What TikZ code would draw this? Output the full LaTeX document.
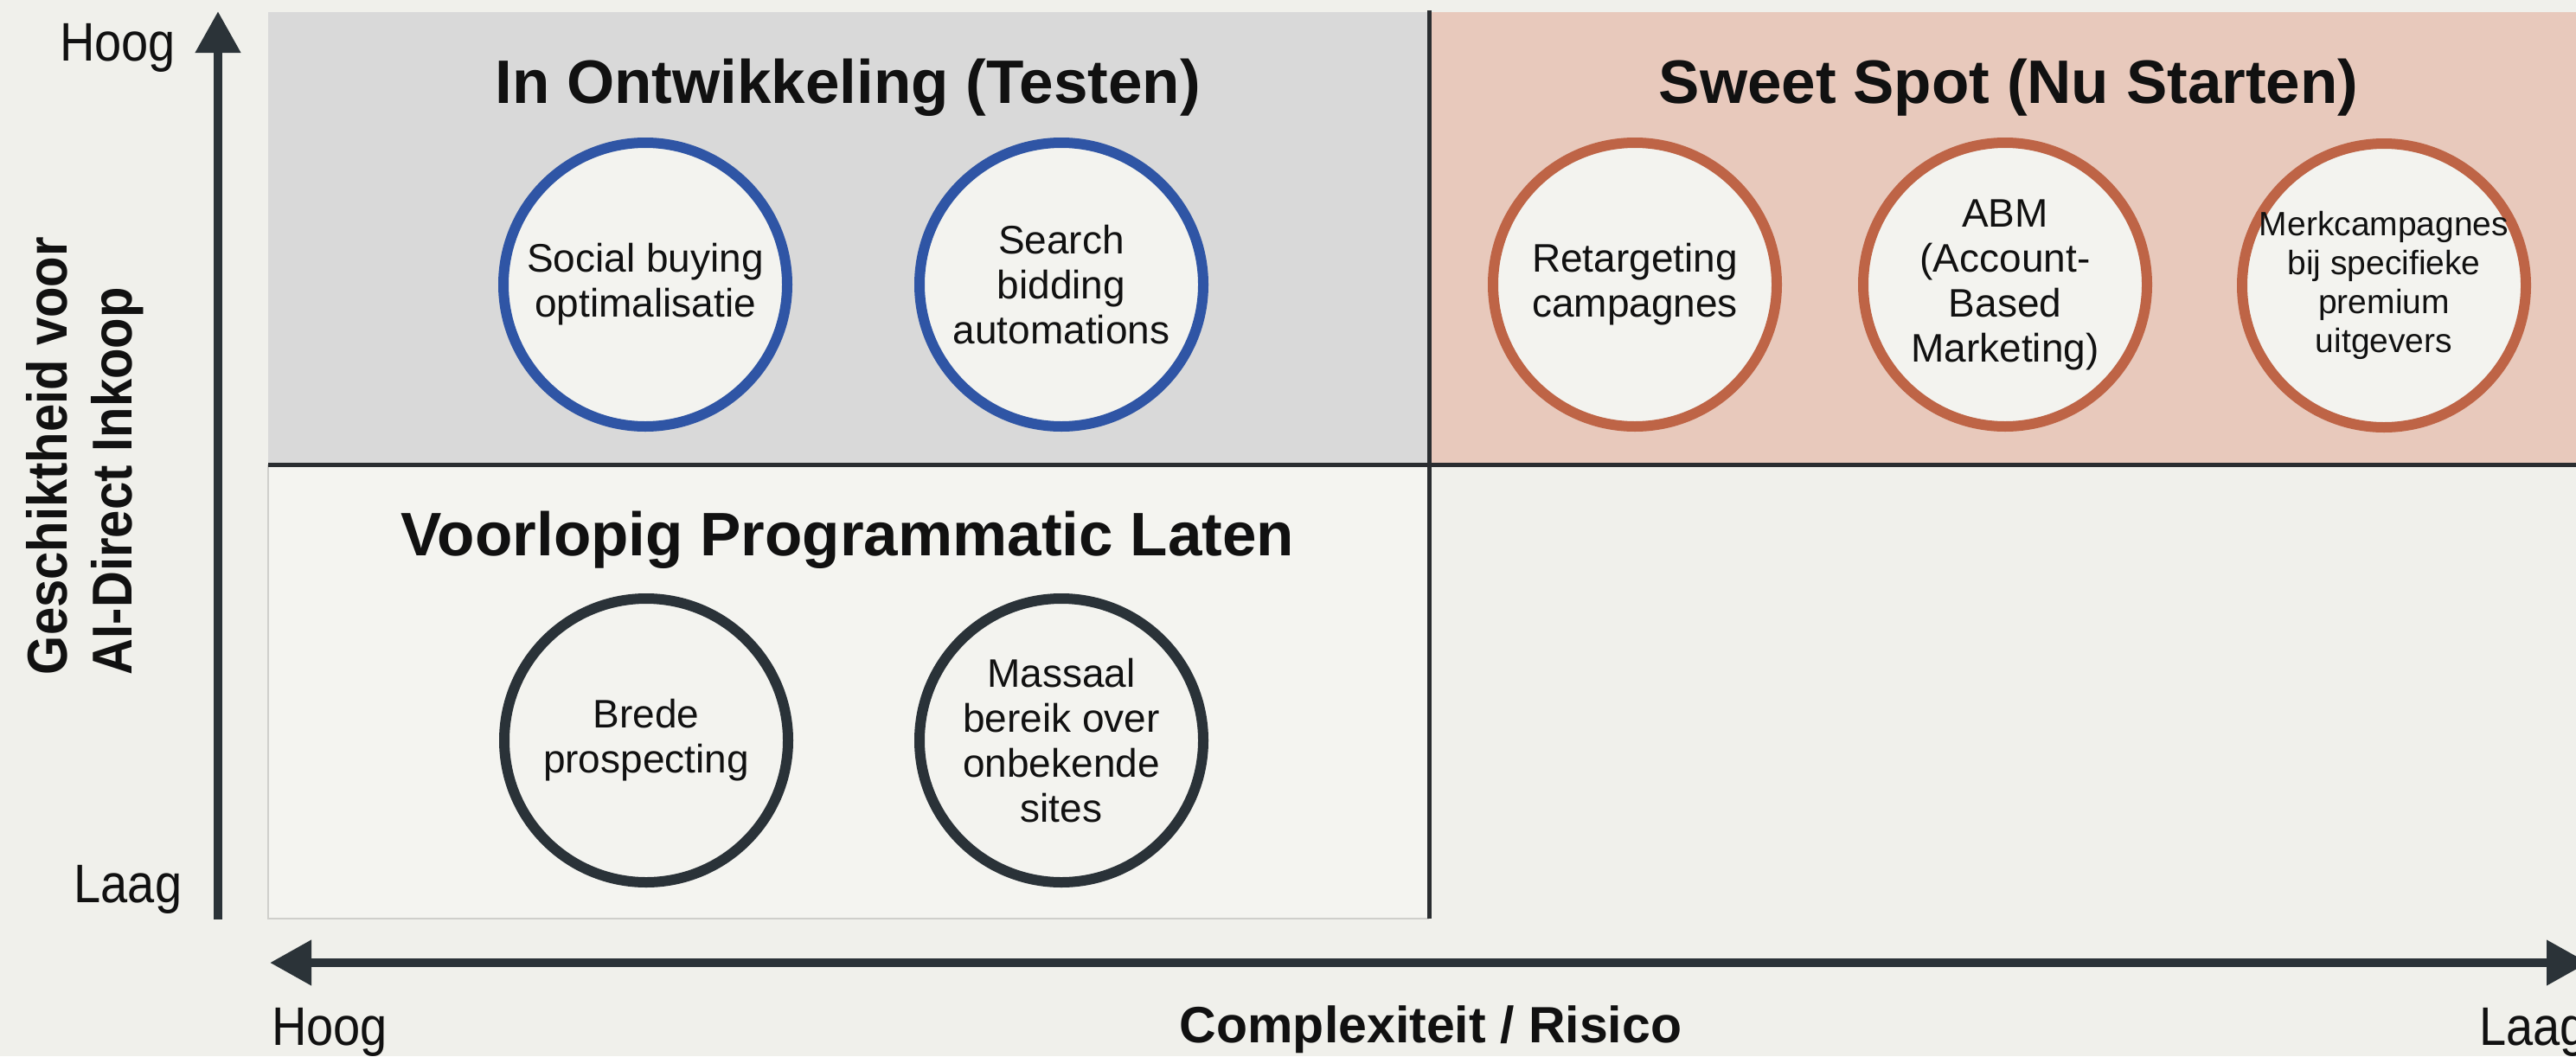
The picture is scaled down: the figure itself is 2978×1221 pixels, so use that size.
\documentclass[tikz,border=0pt]{standalone}
\usepackage{fontspec}
\setmainfont{Liberation Sans}
\usepackage{graphicx}
\usetikzlibrary{arrows.meta}
\definecolor{bgcol}{HTML}{F0F0EB}
\definecolor{graybg}{HTML}{D9D9D9}
\definecolor{orangebg}{HTML}{E8C9BC}
\definecolor{lowbg}{HTML}{F4F4F0}
\definecolor{edgecol}{HTML}{CFCFCB}
\definecolor{cfill}{HTML}{F3F3EF}
\definecolor{bluering}{HTML}{2F55A5}
\definecolor{orangering}{HTML}{BE6446}
\definecolor{darkring}{HTML}{2A3238}
\definecolor{axiscol}{HTML}{2B3338}
\definecolor{divcol}{HTML}{2A2D30}
\definecolor{txt}{HTML}{111111}
\tikzset{
  circ/.style={circle, minimum size=328pt, line width=12pt, fill=cfill, inner sep=0pt},
  bluec/.style={circ, draw=bluering},
  orangec/.style={circ, draw=orangering},
  darkc/.style={circ, draw=darkring},
  ctext/.style={align=center, font=\fontsize{46}{52}\selectfont, text=txt, inner sep=0pt},
  ctextsmall/.style={align=center, font=\fontsize{39}{45}\selectfont, text=txt, inner sep=0pt},
  qtitle/.style={font=\bfseries\fontsize{71}{80}\selectfont, text=txt, inner sep=0pt, anchor=base},
  ticklab/.style={font=\fontsize{56}{60}\selectfont, text=txt, inner sep=0pt, anchor=base},
  axislab/.style={font=\bfseries\fontsize{59}{64}\selectfont, text=txt, inner sep=0pt, anchor=base},
  axisline/.style={line width=10.5pt, draw=axiscol},
  divider/.style={line width=5pt, draw=divcol},
  tipa/.tip={Triangle[length=48pt,width=50pt]},
}
\begin{document}
\begin{tikzpicture}[x=1pt,y=-1pt]
\useasboundingbox (0,0) rectangle (2978,1221);
\fill[bgcol] (0,0) rectangle (2978,1221);

% quadrants
\fill[graybg] (310,14) rectangle (1652,537);
\fill[orangebg] (1652,14) rectangle (2978,537);
\fill[lowbg] (310,537) rectangle (1652,1062);
\draw[edgecol, line width=2.5pt] (310,537) -- (310,1062) -- (1652,1062);

% dividers
\coordinate (vtop) at (1652,12);
\coordinate (vbot) at (1652,1062);
\coordinate (hleft) at (310,537);
\coordinate (hright) at (2978,537);
\draw[divider] (vtop) -- (vbot);
\draw[divider] (hleft) -- (hright);

% axes
\coordinate (ybot) at (252,1063);
\coordinate (ytop) at (252,13);
\draw[axisline, -{tipa[fill=axiscol]}] (ybot) -- (ytop);
\coordinate (xl) at (312,1113);
\coordinate (xr) at (2992,1113);
\draw[axisline, {tipa[fill=axiscol]}-{tipa[fill=axiscol]}] (xl) -- (xr);

% axis labels
\node[ticklab] (yhigh) at (136,70) {\scalebox{1}[1.12]{Hoog}};
\node[ticklab] (ylow) at (148,1043) {\scalebox{1}[1.12]{Laag}};
\node[ticklab, anchor=base west] (xhigh) at (314,1208) {\scalebox{1}[1.12]{Hoog}};
\node[ticklab, anchor=base west] (xlow) at (2866,1208) {\scalebox{1}[1.12]{Laag}};
\node[axislab] (xlabel) at (1654,1205) {Complexiteit / Risico};
\node[rotate=90, inner sep=0pt, text=txt, font=\bfseries\fontsize{58}{67}\selectfont] (ylabel) at (100,527)
  {\scalebox{1}[1.12]{\begin{tabular}{@{}l@{}}Geschiktheid voor\\AI-Direct Inkoop\end{tabular}}};

% titles
\node[qtitle] (t1) at (980,119) {In Ontwikkeling (Testen)};
\node[qtitle] (t2) at (2322,119) {Sweet Spot (Nu Starten)};
\node[qtitle] (t3) at (980,642) {Voorlopig Programmatic Laten};

% circles quadrant 1
\node[bluec] (c1) at (746,329) {};
\node[ctext] (c1t) at (c1.center) {Social buying\\optimalisatie};
\node[bluec] (c2) at (1227,329) {};
\node[ctext] (c2t) at (c2.center) {Search\\bidding\\automations};

% circles quadrant 2
\node[orangec] (c3) at (1890,329) {};
\node[ctext] (c3t) at (c3.center) {Retargeting\\campagnes};
\node[orangec] (c4) at (2318,329) {};
\node[ctext] (c4t) at (c4.center) {ABM\\(Account-\\Based\\Marketing)};
\node[orangec] (c5) at (2756,330) {};
\node[ctextsmall] (c5t) at (c5.center) {Merkcampagnes\\bij specifieke\\premium\\uitgevers};

% circles quadrant 3
\node[darkc] (c6) at (747,856) {};
\node[ctext] (c6t) at (c6.center) {Brede\\prospecting};
\node[darkc] (c7) at (1227,856) {};
\node[ctext] (c7t) at (c7.center) {Massaal\\bereik over\\onbekende\\sites};
\end{tikzpicture}
\end{document}
